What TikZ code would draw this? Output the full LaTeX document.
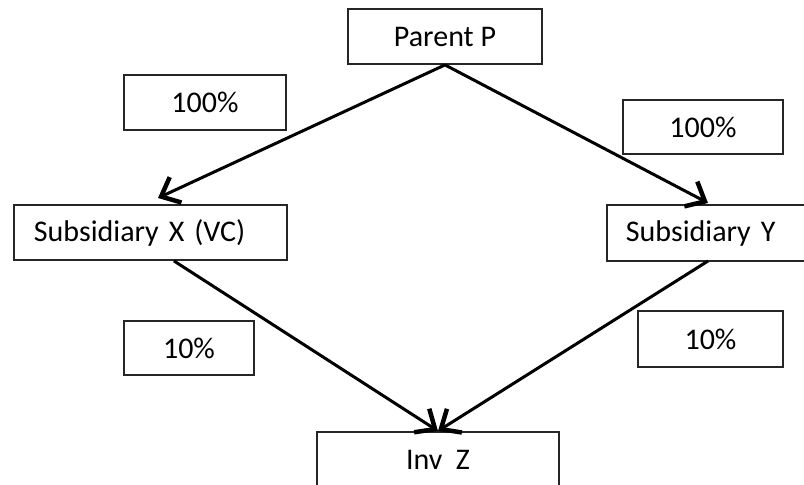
\documentclass[tikz,border=0pt]{standalone}
\usepackage{fontspec}
\setmainfont{Carlito}
\usetikzlibrary{arrows.meta}
\begin{document}
\begin{tikzpicture}[x=1pt,y=-1pt,
  box/.style={draw=black!85, line width=1.8pt, fill=white, inner sep=0pt, font=\fontsize{30}{35}\selectfont, text=black},
  conn/.style={line width=3pt, -{Straight Barb[length=16pt,width=28pt,line width=4.5pt]}}]
\useasboundingbox (0,0) rectangle (804,485);
\clip (0,0) rectangle (804,485);
% boxes
\node[box, minimum width=194pt, minimum height=55pt] (parent) at (445,36.5) {Parent P};
\node[box, minimum width=162pt, minimum height=55pt] (pl) at (205,102.5) {100\%};
\node[box, minimum width=160pt, minimum height=54pt] (pr) at (703,127) {100\%};
\node[box, anchor=west, inner xsep=20pt, text width=233pt, minimum height=55pt, align=left] (subx) at (13,232.5) {Subsidiary X (VC)};
\node[box, anchor=west, inner xsep=19pt, text width=176pt, minimum height=56pt, align=left] (suby) at (606,233) {Subsidiary Y};
\node[box, minimum width=130pt, minimum height=54pt] (ql) at (189,348) {10\%};
\node[box, minimum width=145pt, minimum height=56pt] (qr) at (710.5,339) {10\%};
\node[box, minimum width=242pt, minimum height=56pt] (invz) at (438,460) {Inv\ \ Z};
% arrow targets
\coordinate (tipx) at (158,198);
\coordinate (tipy) at (708,203);
\coordinate (tipz) at (438,431);
\draw[conn] (parent.south) -- (tipx);
\draw[conn] (parent.south) -- (tipy);
\draw[conn] ([xshift=23.5pt]subx.south) -- (tipz);
\draw[conn] (708,261) -- (tipz);
\end{tikzpicture}
\end{document}
